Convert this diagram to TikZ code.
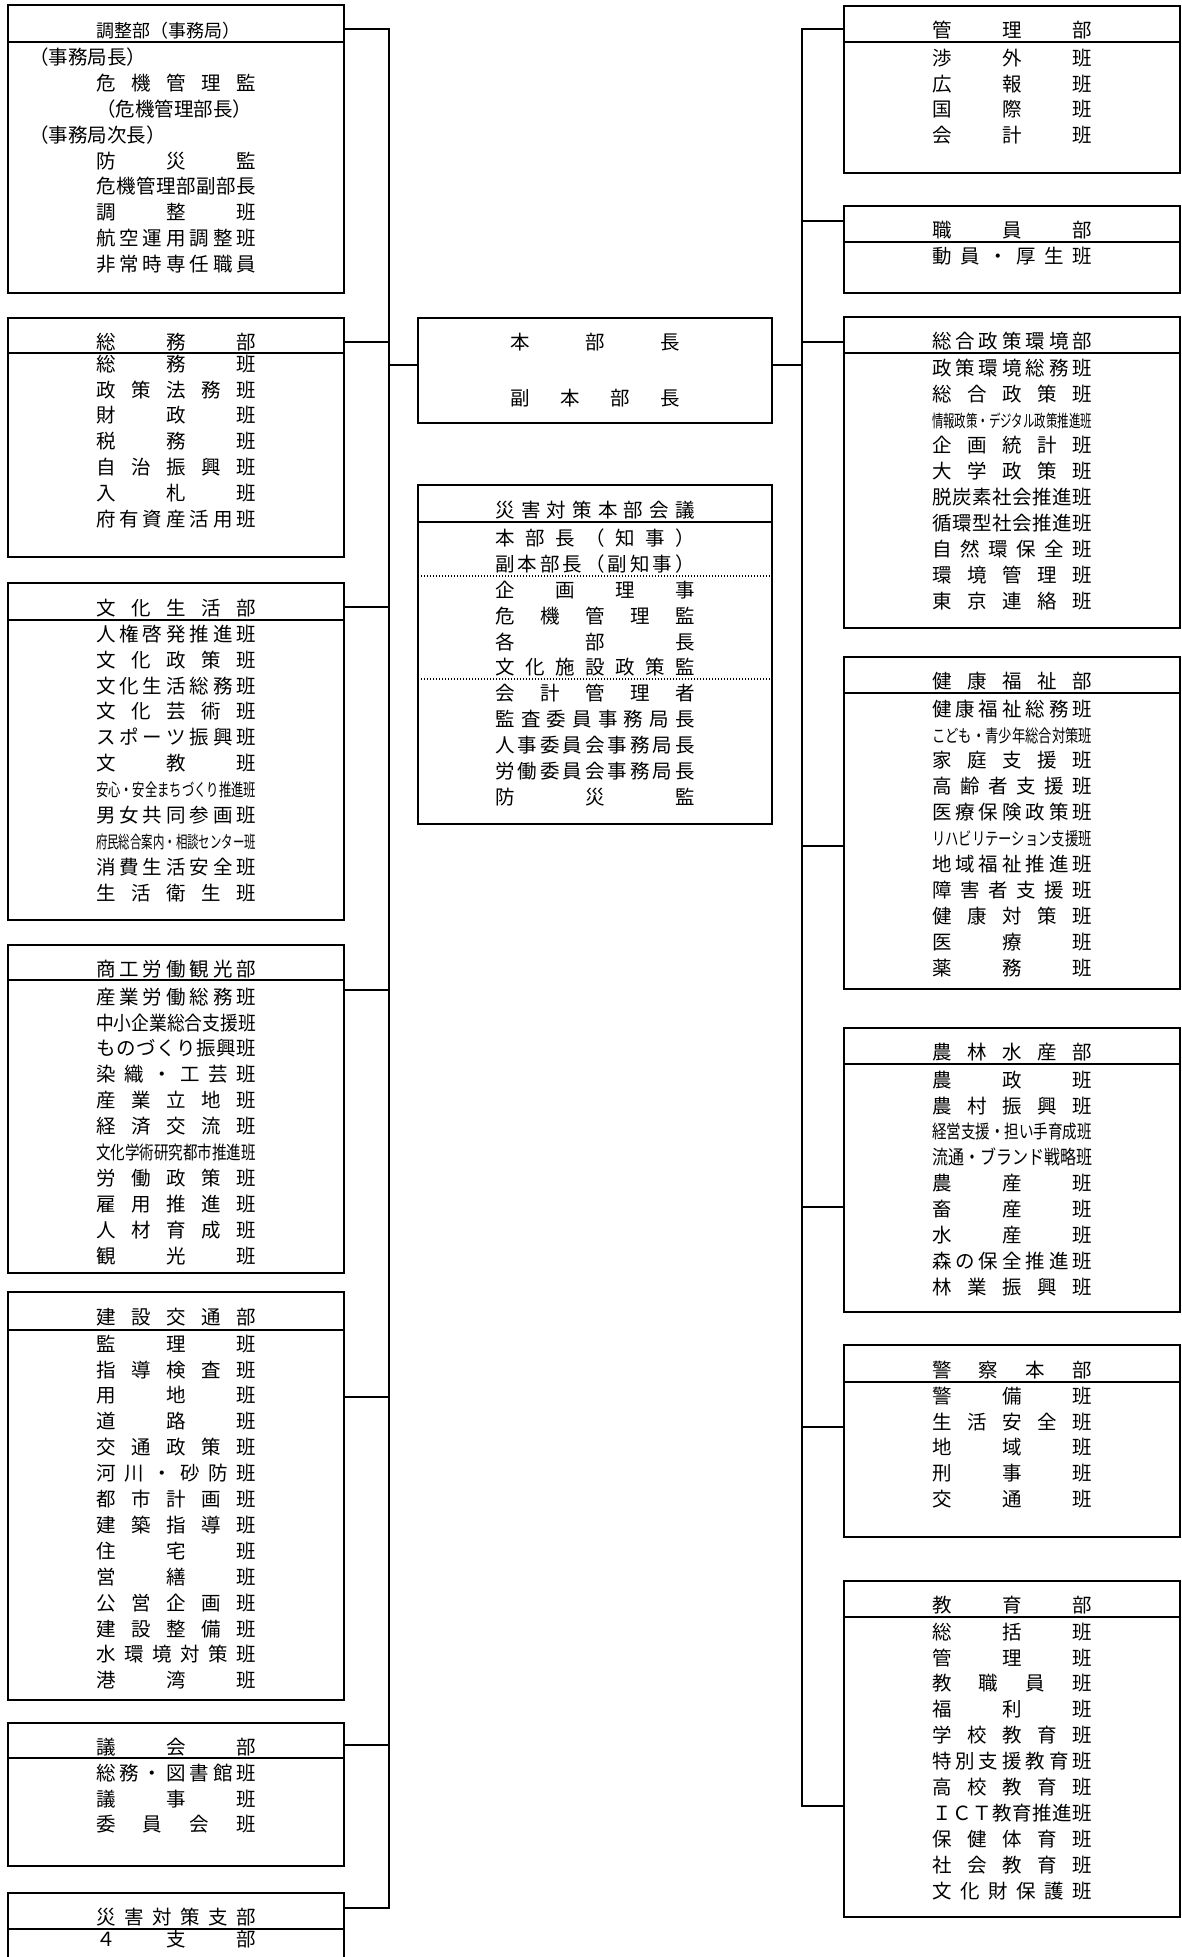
\documentclass[tikz,border=0pt]{standalone}
\usepackage{fontspec}
\setmainfont{Noto Sans CJK JP}
\usepackage{graphicx}
\usepackage{tikz}
\usetikzlibrary{positioning}

\newlength\kinwd
\setlength\kinwd{160pt}
% spread the characters of #2 evenly over width #1
\ExplSyntaxOn
\NewDocumentCommand\kin{O{\kinwd}m}{\makebox[#1][s]{\tl_map_inline:nn{#2}{##1\hfil}\unskip}}
\ExplSyntaxOff
% squeeze a long name into the column
\NewDocumentCommand\sqz{O{0.9}m}{\resizebox{\kinwd}{#1\height}{#2}}
\NewDocumentCommand\lft{O{0pt}m}{\makebox[\kinwd][l]{\hspace*{#1}#2}}

\begin{document}
\begin{tikzpicture}[x=1pt, y=-1pt, line width=1.5pt,
  font=\fontsize{19.5}{25.9}\selectfont,
  hd/.style={draw, anchor=north, minimum width=336pt, minimum height=#1,
             inner sep=0pt, outer sep=0pt, text height=28pt, text depth=1pt},
  bd/.style={draw, anchor=north, minimum width=336pt, minimum height=#1,
             inner sep=0pt, outer sep=0pt},
  lines/.style={anchor=north, align=center, inner sep=0pt},
  dots/.style={line width=1.2pt, dash pattern=on 1.2pt off 1.8pt}
]
\useasboundingbox[fill=white] (0,0) rectangle (1182,1957);

% left column
\node[hd=37pt] (chousei) at (176,5) {\fontsize{18}{20}\selectfont\lft{調整部（事務局）}};
\node[bd=251pt, below=0pt of chousei] (chousei-b) {};
\node[lines, below=5pt of chousei-b.north]
  {\lft[-67pt]{（事務局長）}\\ \kin{危機管理監}\\ \lft{（危機管理部長）}\\
   \lft[-67pt]{（事務局次長）}\\ \kin{防災監}\\ \kin{危機管理部副部長}\\
   \kin{調整班}\\ \kin{航空運用調整班}\\ \kin{非常時専任職員}};

\node[hd=35pt] (soumu) at (176,318) {\kin{総務部}};
\node[bd=204pt, below=0pt of soumu] (soumu-b) {};
\node[lines, below=1pt of soumu-b.north]
  {\kin{総務班}\\ \kin{政策法務班}\\ \kin{財政班}\\ \kin{税務班}\\
   \kin{自治振興班}\\ \kin{入札班}\\ \kin{府有資産活用班}};

\node[hd=37pt] (bunka) at (176,583) {\kin{文化生活部}};
\node[bd=300pt, below=0pt of bunka] (bunka-b) {};
\node[lines, below=4pt of bunka-b.north]
  {\kin{人権啓発推進班}\\ \kin{文化政策班}\\ \kin{文化生活総務班}\\ \kin{文化芸術班}\\
   \kin{スポーツ振興班}\\ \kin{文教班}\\ \sqz{安心・安全まちづくり推進班}\\
   \kin{男女共同参画班}\\ \sqz[0.88]{府民総合案内・相談センター班}\\
   \kin{消費生活安全班}\\ \kin{生活衛生班}};

\node[hd=35pt] (shoukou) at (176,945) {\kin{商工労働観光部}};
\node[bd=293pt, below=0pt of shoukou] (shoukou-b) {};
\node[lines, below=7pt of shoukou-b.north]
  {\kin{産業労働総務班}\\ \sqz[1]{中小企業総合支援班}\\ \kin{ものづくり振興班}\\
   \kin{染織・工芸班}\\ \kin{産業立地班}\\ \kin{経済交流班}\\
   \sqz[0.95]{文化学術研究都市推進班}\\ \kin{労働政策班}\\ \kin{雇用推進班}\\
   \kin{人材育成班}\\ \kin{観光班}};

\node[hd=38pt] (kensetsu) at (176,1292) {\kin{建設交通部}};
\node[bd=370pt, below=0pt of kensetsu] (kensetsu-b) {};
\node[lines, below=4pt of kensetsu-b.north]
  {\kin{監理班}\\ \kin{指導検査班}\\ \kin{用地班}\\ \kin{道路班}\\ \kin{交通政策班}\\
   \kin{河川・砂防班}\\ \kin{都市計画班}\\ \kin{建築指導班}\\ \kin{住宅班}\\
   \kin{営繕班}\\ \kin{公営企画班}\\ \kin{建設整備班}\\ \kin{水環境対策班}\\ \kin{港湾班}};

\node[hd=35pt] (gikai) at (176,1723) {\kin{議会部}};
\node[bd=108pt, below=0pt of gikai] (gikai-b) {};
\node[lines, below=5pt of gikai-b.north]
  {\kin{総務・図書館班}\\ \kin{議事班}\\ \kin{委員会班}};

\node[hd=36pt] (shibu) at (176,1893) {\kin{災害対策支部}};
\draw (shibu.south west) -- (shibu.south west |- 0,1957);
\draw (shibu.south east) -- (shibu.south east |- 0,1957);
\node[lines, below=0pt of shibu.south] {\kin{４支部}};

% centre
\node[draw, align=center, anchor=north, inner sep=0pt,
      minimum width=354pt, minimum height=105pt] (honbu) at (595,317)
  {\kin[170pt]{本部長}\\[30pt]\kin[170pt]{副本部長}};

\node[hd=37pt, minimum width=354pt] (kaigi) at (595,485) {\kin[199pt]{災害対策本部会議}};
\node[bd=302pt, minimum width=354pt, below=0pt of kaigi] (kaigi-b) {};
\node[lines, below=6pt of kaigi-b.north,
      execute at begin node={\setlength\kinwd{199pt}}]
  {\kin{本部長（知事）}\\ \kin{副本部長（副知事）}\\ \kin{企画理事}\\ \kin{危機管理監}\\
   \kin{各部長}\\ \kin{文化施設政策監}\\ \kin{会計管理者}\\ \kin{監査委員事務局長}\\
   \kin{人事委員会事務局長}\\ \kin{労働委員会事務局長}\\ \kin{防災監}};
\draw[dots] (kaigi-b.west |- 0,576) -- (kaigi-b.east |- 0,576);
\draw[dots] (kaigi-b.west |- 0,679) -- (kaigi-b.east |- 0,679);

% right column
\node[hd=36pt] (kanri) at (1012,6) {\kin{管理部}};
\node[bd=131pt, below=0pt of kanri] (kanri-b) {};
\node[lines, below=6pt of kanri-b.north]
  {\kin{渉外班}\\ \kin{広報班}\\ \kin{国際班}\\ \kin{会計班}};

\node[hd=36pt] (shokuin) at (1012,206) {\kin{職員部}};
\node[bd=51pt, below=0pt of shokuin] (shokuin-b) {};
\node[lines, below=4pt of shokuin-b.north] {\kin{動員・厚生班}};

\node[hd=36pt] (seisaku) at (1012,317) {\kin{総合政策環境部}};
\node[bd=275pt, below=0pt of seisaku] (seisaku-b) {};
\node[lines, below=5pt of seisaku-b.north]
  {\kin{政策環境総務班}\\ \kin{総合政策班}\\ \sqz[0.88]{情報政策・デジタル政策推進班}\\
   \kin{企画統計班}\\ \kin{大学政策班}\\ \kin{脱炭素社会推進班}\\ \kin{循環型社会推進班}\\
   \kin{自然環保全班}\\ \kin{環境管理班}\\ \kin{東京連絡班}};

\node[hd=36pt] (kenkou) at (1012,657) {\kin{健康福祉部}};
\node[bd=296pt, below=0pt of kenkou] (kenkou-b) {};
\node[lines, below=6pt of kenkou-b.north]
  {\kin{健康福祉総務班}\\ \sqz{こども・青少年総合対策班}\\ \kin{家庭支援班}\\
   \kin{高齢者支援班}\\ \kin{医療保険政策班}\\ \sqz[0.92]{リハビリテーション支援班}\\
   \kin{地域福祉推進班}\\ \kin{障害者支援班}\\ \kin{健康対策班}\\ \kin{医療班}\\ \kin{薬務班}};

\node[hd=36pt] (nourin) at (1012,1028) {\kin{農林水産部}};
\node[bd=248pt, below=0pt of nourin] (nourin-b) {};
\node[lines, below=6pt of nourin-b.north]
  {\kin{農政班}\\ \kin{農村振興班}\\ \sqz[0.95]{経営支援・担い手育成班}\\
   \sqz[1]{流通・ブランド戦略班}\\ \kin{農産班}\\ \kin{畜産班}\\ \kin{水産班}\\
   \kin{森の保全推進班}\\ \kin{林業振興班}};

\node[hd=37pt] (keisatsu) at (1012,1345) {\kin{警察本部}};
\node[bd=155pt, below=0pt of keisatsu] (keisatsu-b) {};
\node[lines, below=4pt of keisatsu-b.north]
  {\kin{警備班}\\ \kin{生活安全班}\\ \kin{地域班}\\ \kin{刑事班}\\ \kin{交通班}};

\node[hd=36pt] (kyouiku) at (1012,1581) {\kin{教育部}};
\node[bd=300pt, below=0pt of kyouiku] (kyouiku-b) {};
\node[lines, below=5pt of kyouiku-b.north]
  {\kin{総括班}\\ \kin{管理班}\\ \kin{教職員班}\\ \kin{福利班}\\ \kin{学校教育班}\\
   \kin{特別支援教育班}\\ \kin{高校教育班}\\ \kin{ＩＣＴ教育推進班}\\ \kin{保健体育班}\\
   \kin{社会教育班}\\ \kin{文化財保護班}};

% connectors
\coordinate (lbus) at (389,0);
\coordinate (rbus) at (802,0);
\draw (chousei.east |- 0,29) -| (lbus |- 0,1908) -- (shibu.east |- 0,1908);
\foreach \n/\y in {soumu/342, bunka/607, shoukou-b/990, kensetsu-b/1397, gikai/1745}
  \draw (\n.east |- 0,\y) -- (lbus |- 0,\y);
\draw (kanri.west |- 0,29) -| (rbus |- 0,1806) -- (kyouiku-b.west |- 0,1806);
\foreach \n/\y in {shokuin/221, seisaku/342, kenkou-b/846, nourin-b/1207, keisatsu-b/1427}
  \draw (\n.west |- 0,\y) -- (rbus |- 0,\y);
\draw (lbus |- 0,365) -- (honbu.west |- 0,365);
\draw (honbu.east |- 0,365) -- (rbus |- 0,365);
\end{tikzpicture}
\end{document}
